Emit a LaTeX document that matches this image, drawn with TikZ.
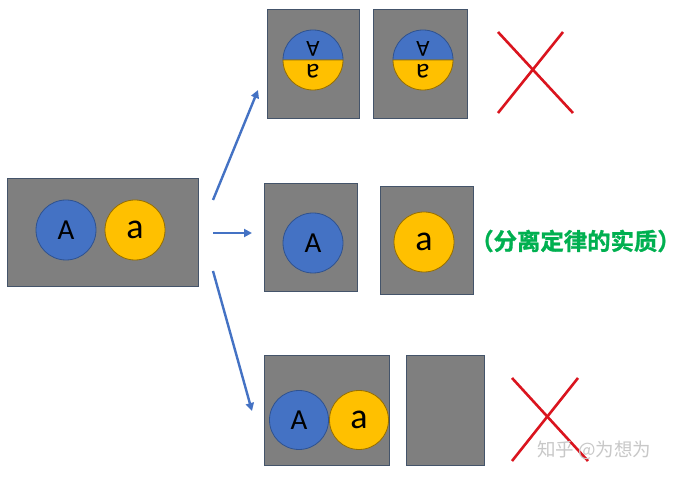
\documentclass[tikz,border=0pt]{standalone}
\usepackage{fontspec}
\setmainfont{Carlito}
\newfontfamily\cjk{Noto Sans CJK SC}[BoldFont={* Bold}, BoldFeatures={FakeBold=1.2}]
\usetikzlibrary{arrows.meta}
\definecolor{boxgray}{RGB}{127,127,127}
\definecolor{boxedge}{RGB}{68,84,106}
\definecolor{cblue}{RGB}{68,114,196}
\definecolor{cblueedge}{RGB}{47,82,143}
\definecolor{cyel}{RGB}{255,192,0}
\definecolor{cyeledge}{RGB}{150,110,0}
\definecolor{arrowblue}{RGB}{68,114,196}
\definecolor{xred}{RGB}{218,20,30}
\definecolor{tgreen}{RGB}{0,176,80}
\definecolor{wmgray}{RGB}{200,200,200}
\tikzset{
  panel/.style={rectangle, fill=boxgray, draw=boxedge, line width=1pt, inner sep=0pt, outer sep=0pt},
  bigA/.style={circle, fill=cblue, draw=cblueedge, line width=0.8pt, minimum size=60pt, inner sep=0pt, font=\fontsize{29}{30}\selectfont, text=black},
  biga/.style={circle, fill=cyel, draw=cyeledge, line width=0.8pt, minimum size=60pt, inner sep=0pt, font=\fontsize{36}{38}\selectfont, text=black},
  flow/.style={draw=arrowblue, line width=2.4pt, -{Triangle[length=8pt,width=8pt]}},
  cross/.style={draw=xred, line width=2.6pt},
}
\begin{document}
\begin{tikzpicture}[x=1pt,y=-1pt]
\useasboundingbox (0,0) rectangle (683,478);
\fill[white] (0,0) rectangle (683,478);
% panels
\node[panel, minimum width=191pt, minimum height=108pt] (L) at (102.5,233) {};
\node[panel, minimum width=92pt, minimum height=109pt] (T1) at (313,64.5) {};
\node[panel, minimum width=94pt, minimum height=109pt] (T2) at (420,64.5) {};
\node[panel, minimum width=93pt, minimum height=108pt] (M1) at (310.5,238) {};
\node[panel, minimum width=93pt, minimum height=108pt] (M2) at (426.5,241) {};
\node[panel, minimum width=125pt, minimum height=109pt] (B1) at (326.5,410.5) {};
\node[panel, minimum width=78pt, minimum height=109pt] (B2) at (445,410.5) {};
% left circles
\node[bigA] (LA) at (66,230) {A};
\node[biga] (La) at (135,230) {a};
% middle
\node[bigA] (MA) at (313,243) {A};
\node[biga] (Ma) at (424,242) {a};
% bottom
\node[bigA, minimum size=59pt] (BA) at (299,420) {A};
\node[biga, minimum size=59pt] (Ba) at (359,420) {a};
% split circles
\foreach \cx/\nm in {313/S1, 423/S2} {
  \coordinate (\nm) at (\cx,60);
  \filldraw[fill=cblue, draw=cblueedge, line width=0.8pt] (\nm) ++(-30,0) arc (180:360:30) -- cycle;
  \filldraw[fill=cyel, draw=cyeledge, line width=0.8pt] (\nm) ++(30,0) arc (0:180:30) -- cycle;
  \node[rotate=180, font=\fontsize{23}{24}\selectfont, text=black] at ([yshift=11pt]\nm) {A};
  \node[rotate=180, font=\fontsize{28}{29}\selectfont, text=black] at ([yshift=-11pt]\nm) {a};
}
% arrows
\coordinate (s1) at (213,200); \coordinate (e1) at (258,90);
\coordinate (s2) at (213,233); \coordinate (e2) at (252,233);
\coordinate (s3) at (213,271); \coordinate (e3) at (252,411);
\draw[flow] (s1) -- (e1);
\draw[flow] (s2) -- (e2);
\draw[flow] (s3) -- (e3);
% red crosses
\coordinate (x1a) at (498,32); \coordinate (x1b) at (573,113);
\coordinate (x1c) at (563,32); \coordinate (x1d) at (498,113);
\draw[cross] (x1a) -- (x1b);
\draw[cross] (x1c) -- (x1d);
\coordinate (x2a) at (512,378); \coordinate (x2b) at (588,461);
\coordinate (x2c) at (578,378); \coordinate (x2d) at (512,461);
\draw[cross] (x2a) -- (x2b);
\draw[cross] (x2c) -- (x2d);
% label
\node[anchor=west, inner sep=0pt, text=tgreen, font=\cjk\bfseries\fontsize{23.4}{25}\selectfont] (lab) at (470,241) {（分离定律的实质）};
% watermark
\node[anchor=west, inner sep=0pt, text=wmgray, font=\cjk\fontsize{18.5}{20}\selectfont] (wm) at (537,450) {知乎 @为想为};
\end{tikzpicture}
\end{document}
